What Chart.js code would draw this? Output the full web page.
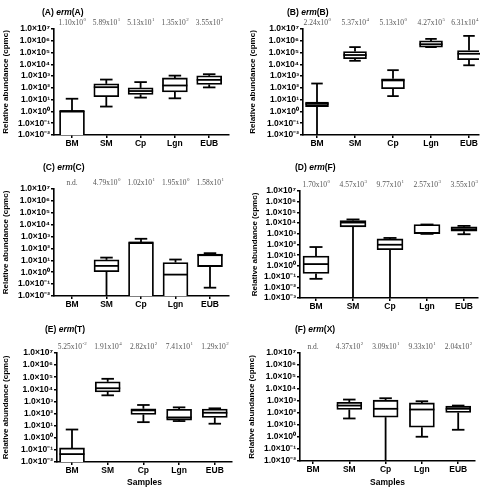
<!DOCTYPE html>
<html>
<head>
<meta charset="utf-8">
<script src="https://cdn.jsdelivr.net/npm/chart.js@4.4.1/dist/chart.umd.min.js"></script>
<style>
html,body{margin:0;padding:0;background:#fff;}
#wrap{position:relative;width:480px;height:489px;overflow:hidden;}
#wrap canvas{position:absolute;}
</style>
</head>
<body>
<div id="wrap"></div>
<script>
const categories=['BM','SM','Cp','Lgn','EUB'];
const LOW=1e-4; // runs off the bottom of the axis

// rows: [min, q1, median, q3, max] for BM, SM, Cp, Lgn, EUB (null = n.d.)
const ermA=[[LOW,LOW,1.1,1.1,12],[2.6,18,115,220,510],[15,28,54,100,310],[13,45,160,700,1100],[110,195,480,1050,1450]];
const ermB=[[LOW,2.6,4.4,6.3,235],[2.0e4,3.0e4,6.2e4,1.23e5,2.9e5],[20,85,430,590,3200],[2.9e5,2.9e5,5.1e5,9.8e5,1.45e6],[8.3e3,2.45e4,7.9e4,1.5e5,2.6e6]];
const ermC=[null,[LOW,1.1,3.4,11,17],[LOW,LOW,316,316,650],[LOW,LOW,0.63,6.5,11.7],[0.05,3.0,27,33,40]];
const ermD=[[0.062,0.195,1.48,8.3,58],[LOW,4.5e3,1.12e4,1.74e4,2.2e4],[LOW,32,95,330,410],[980,1050,1200,7400,7400],[910,1740,2700,4470,5500]];
const ermE=[[LOW,LOW,0.045,0.145,4.8],[3.2e3,6.1e3,1.23e4,4.2e4,7.4e4],[19.5,85,183,250,510],[24,29,48,222,325],[14.5,48,117,235,270]];
const ermF=[null,[35,195,417,790,1320],[LOW,45,224,1170,1700],[1.05,6.6,195,690,955],[4.0,110,224,370,417]];

// values printed above each box
const ermA_lab=['1.10x10^0','5.89x10^1','5.13x10^1','1.35x10^2','3.55x10^2'];
const ermB_lab=['2.24x10^0','5.37x10^4','5.13x10^0','4.27x10^5','6.31x10^4'];
const ermC_lab=['n.d.','4.79x10^0','1.02x10^1','1.95x10^0','1.58x10^1'];
const ermD_lab=['1.70x10^0','4.57x10^3','9.77x10^1','2.57x10^3','3.55x10^3'];
const ermE_lab=['5.25x10^-2','1.91x10^4','2.82x10^2','7.41x10^1','1.29x10^2'];
const ermF_lab=['n.d.','4.37x10^2','3.09x10^1','9.33x10^1','2.04x10^2'];

const yMaxExp=7;

const SANS='"Liberation Sans", Arial, Helvetica, sans-serif';
const SERIF='"Liberation Serif", "Times New Roman", serif';
const SUP={'0':'⁰','1':'¹','2':'²','3':'³','4':'⁴','5':'⁵','6':'⁶','7':'⁷','8':'⁸','9':'⁹','-':'⁻'};

const panels=[
{tag:'A',gene:'A',data:ermA,lab:ermA_lab,minExp:-2,pos:[0,0,240,160],area:[54,229,29,135],bm:72,step:34.3,bw:25,title:[42,13],yt:6},
{tag:'B',gene:'B',data:ermB,lab:ermB_lab,minExp:-2,pos:[240,0,240,160],area:[63,239,29,135],bm:77,step:38,bw:23,title:[47,13],yt:13},
{tag:'C',gene:'C',data:ermC,lab:ermC_lab,minExp:-2,pos:[0,160,240,160],area:[54,229,29,136],bm:72,step:34.5,bw:25,title:[43,8],yt:6},
{tag:'D',gene:'F',data:ermD,lab:ermD_lab,minExp:-3,pos:[240,160,240,160],area:[60,238,31,138],bm:76,step:37,bw:26,title:[55,8],yt:15},
{tag:'E',gene:'T',data:ermE,lab:ermE_lab,minExp:-2,pos:[0,320,240,169],area:[57,232,33,142],bm:72,step:35.7,bw:25,title:[45,10],yt:6,samples:true},
{tag:'F',gene:'X',data:ermF,lab:ermF_lab,minExp:-2,pos:[240,320,240,169],area:[60,235,33,141],bm:73,step:36.3,bw:25,title:[55,10],yt:12,samples:true}
];

function seg(ctx,x1,y1,x2,y2){ctx.beginPath();ctx.moveTo(x1,y1);ctx.lineTo(x2,y2);ctx.stroke();}

function extras(p){
return {
id:'extras',
afterDatasetsDraw(chart){
const {ctx,chartArea:a,scales:{x,y}}=chart;
ctx.save();
ctx.strokeStyle='#000';
ctx.lineWidth=1.8;
const cap=p.bw*0.5;
p.data.forEach((r,i)=>{
if(!r) return;
const [mn,q1,md,q3,mx]=r;
const cx=x.getPixelForValue(i);
const py=v=>Math.min(y.getPixelForValue(v),a.bottom);
if(mx>q3) seg(ctx,cx,py(q3),cx,py(mx));
if(y.getPixelForValue(mx)<=a.bottom) seg(ctx,cx-cap/2,py(mx),cx+cap/2,py(mx));
if(q1>mn) seg(ctx,cx,py(q1),cx,py(mn));
if(y.getPixelForValue(mn)<a.bottom) seg(ctx,cx-cap/2,py(mn),cx+cap/2,py(mn));
if(y.getPixelForValue(md)<a.bottom) seg(ctx,cx-p.bw/2,py(md),cx+p.bw/2,py(md));
});
ctx.restore();
},
afterDraw(chart){
const {ctx,chartArea:a,scales:{x}}=chart;
ctx.save();
ctx.textBaseline='middle';
// value labels
ctx.fillStyle='#555';
p.lab.forEach((t,i)=>{
const cx=x.getPixelForValue(i);
const ty=a.top-6;
if(t.indexOf('^')<0){
ctx.font='7.5px '+SERIF;
ctx.textAlign='center';
ctx.fillText(t,cx,ty);
return;
}
const [m,e]=t.split('^');
ctx.font='7.5px '+SERIF;
const w1=ctx.measureText(m).width;
ctx.font='5px '+SERIF;
const w2=ctx.measureText(e).width;
const x0=Math.min(cx-(w1+w2)/2,chart.width-w1-w2-2);
ctx.textAlign='left';
ctx.font='7.5px '+SERIF;
ctx.fillText(m,x0,ty);
ctx.font='5px '+SERIF;
ctx.fillText(e,x0+w1+0.5,ty-3);
});
// panel title
ctx.fillStyle='#000';
ctx.textAlign='left';
let tx=p.title[0];
[['('+p.tag+') ','bold'],['erm','italic bold'],['('+p.gene+')','bold']].forEach(([s,f])=>{
ctx.font=f+' 8.5px '+SANS;
ctx.fillText(s,tx,p.title[1]);
tx+=ctx.measureText(s).width;
});
// y axis title
ctx.save();
ctx.translate(p.yt,(a.top+a.bottom)/2);
ctx.rotate(-Math.PI/2);
ctx.textAlign='center';
ctx.font='bold 8px '+SANS;
ctx.fillText('Relative abundance (cpmc)',0,0);
ctx.restore();
if(p.samples){
ctx.textAlign='center';
ctx.font='bold 8.5px '+SANS;
ctx.fillText('Samples',(a.left+a.right)/2,chart.height-6);
}
ctx.restore();
}
};
}

const wrap=document.getElementById('wrap');
panels.forEach(p=>{
const [L,T,W,H]=p.pos;
const cv=document.createElement('canvas');
cv.width=W;cv.height=H;
cv.style.left=L+'px';cv.style.top=T+'px';
wrap.appendChild(cv);
const [aL,aR,aT,aB]=p.area;
const yW=40,xH=14;
const axisLine={display:true,color:'#000',width:1.6};
const tickMarks={display:true,drawOnChartArea:false,drawTicks:true,tickLength:3,color:'#000',lineWidth:1.5,offset:false};
const exps=[];
for(let e=p.minExp;e<=yMaxExp;e++) exps.push(e);
new Chart(cv,{
type:'bar',
data:{
datasets:[{
data:p.data.map((r,i)=>r?{x:i,y:[r[1],r[3]]}:null).filter(d=>d),
backgroundColor:'#fff',
borderColor:'#000',
borderWidth:1.8,
borderSkipped:false,
barThickness:p.bw
}]
},
options:{
responsive:false,
animation:false,
events:[],
layout:{padding:{left:aL-yW,top:aT,right:W-aR,bottom:H-aB-xH}},
plugins:{legend:{display:false},tooltip:{enabled:false}},
scales:{
x:{
type:'linear',
offset:false,
min:-(p.bm-aL)/p.step,
max:(aR-p.bm)/p.step,
afterBuildTicks:s=>{s.ticks=categories.map((c,i)=>({value:i}));},
afterFit:s=>{s.height=xH;s.paddingLeft=0;s.paddingRight=0;},
ticks:{callback:v=>categories[v],autoSkip:false,maxRotation:0,padding:1,color:'#000',font:{family:SANS,size:8.5,weight:'bold'}},
grid:tickMarks,
border:axisLine
},
y:{
type:'logarithmic',
min:Math.pow(10,p.minExp),
max:Math.pow(10,yMaxExp),
afterBuildTicks:s=>{s.ticks=exps.map(e=>({value:Math.pow(10,e)}));},
afterFit:s=>{s.width=yW;s.paddingTop=0;s.paddingBottom=0;},
ticks:{
callback:v=>'1.0×10'+String(Math.round(Math.log10(v))).split('').map(c=>SUP[c]).join(''),
autoSkip:false,padding:1,color:'#000',font:{family:SANS,size:8.5,weight:'bold'}
},
grid:tickMarks,
border:axisLine
}
}
},
plugins:[extras(p)]
});
});
</script>
</body>
</html>
